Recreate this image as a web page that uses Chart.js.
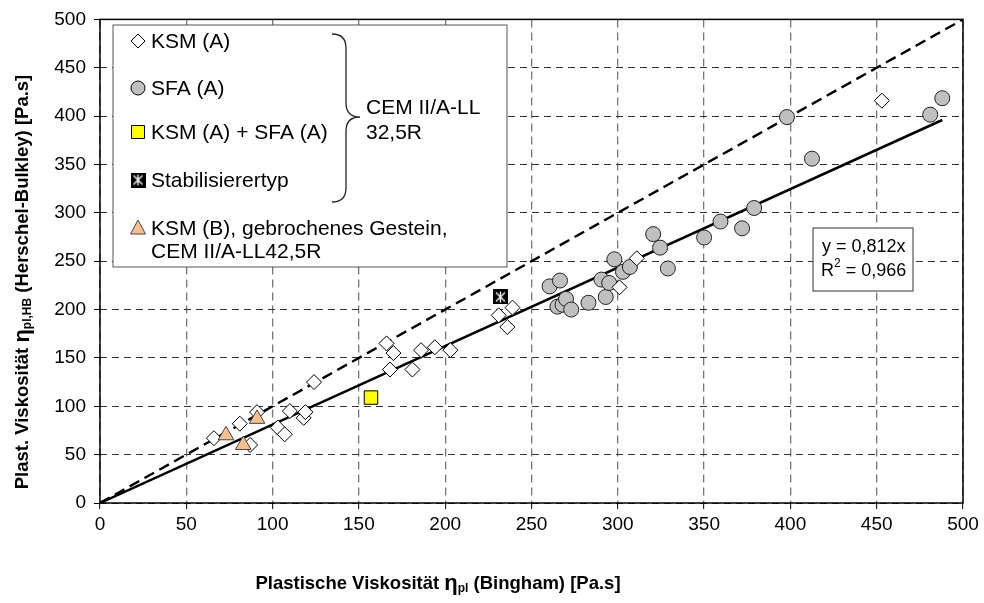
<!DOCTYPE html>
<html>
<head>
<meta charset="utf-8">
<script src="https://cdn.jsdelivr.net/npm/chart.js@4.4.1/dist/chart.umd.min.js"></script>
<style>
  html, body { margin: 0; padding: 0; background: #fff; }
  canvas { display: block; }
</style>
</head>
<body>
<canvas id="viscChart" width="984" height="603"></canvas>
<script>
// Values
const ksmA_x = [66, 81, 91, 87, 103, 107, 110, 118, 119, 124, 166, 170, 168, 186, 181, 194, 203, 231, 239, 236, 301, 311, 453];
const ksmA_y = [67, 82, 94, 60, 78, 71, 95, 88, 94, 125, 165, 155, 138, 158, 138, 161, 158, 194, 202, 182, 223, 253, 416];

const sfaA_x = [260.5, 266.5, 265, 268, 270, 273, 283, 293, 290.5, 295, 298, 303, 307, 320.5, 324.5, 329, 350, 359.5, 372, 379, 398, 412.5, 481, 488];
const sfaA_y = [224, 230, 203, 205, 211, 200, 207, 213, 231, 227.5, 252, 239, 244, 278, 264, 242.5, 274.5, 291, 284, 305, 399, 356, 401.5, 418.5];

const mix_x = [157];
const mix_y = [109];

const stab_x = [232];
const stab_y = [213];

const ksmB_x = [73, 83, 91];
const ksmB_y = [70, 60, 87];

// regression line y = 0,812x and the 1:1 line
const fit_x = [0, 488];
const fit_y = [0, 396];
const diag_x = [0, 500];
const diag_y = [0, 500];

const axisMin = 0, axisMax = 500, axisStep = 50;

const FONT = '"Liberation Sans", Arial, sans-serif';

function pts(xs, ys) {
  return xs.map(function (x, i) { return { x: x, y: ys[i] }; });
}

// black square with white star for "Stabilisierertyp"
function stabIcon(size) {
  const c = document.createElement('canvas');
  c.width = size; c.height = size;
  const g = c.getContext('2d');
  g.fillStyle = '#000';
  g.fillRect(0, 0, size, size);
  g.strokeStyle = '#fff';
  g.lineWidth = 1.3;
  g.beginPath();
  g.moveTo(3, 3); g.lineTo(size - 3, size - 3);
  g.moveTo(size - 3, 3); g.lineTo(3, size - 3);
  g.moveTo(size / 2, 2); g.lineTo(size / 2, size - 2);
  g.stroke();
  return c;
}
const stabPoint = stabIcon(15);

// draws text pieces with subscripts, centred on (0,0)
function richText(ctx, parts) {
  let total = 0;
  parts.forEach(function (p) {
    ctx.font = p.font;
    p.w = ctx.measureText(p.t).width;
    total += p.w;
  });
  let x = -total / 2;
  parts.forEach(function (p) {
    ctx.font = p.font;
    ctx.fillText(p.t, x, p.dy || 0);
    x += p.w;
  });
}

function marker(ctx, style, x, y) {
  ctx.save();
  ctx.lineWidth = 1;
  ctx.strokeStyle = '#000';
  ctx.beginPath();
  if (style === 'diamond') {
    ctx.fillStyle = '#fff';
    ctx.moveTo(x, y - 7); ctx.lineTo(x + 7, y); ctx.lineTo(x, y + 7); ctx.lineTo(x - 7, y); ctx.closePath();
  } else if (style === 'circle') {
    ctx.fillStyle = '#c0c0c0';
    ctx.arc(x, y, 7, 0, Math.PI * 2);
  } else if (style === 'square') {
    ctx.fillStyle = '#ffff00';
    ctx.rect(x - 6.5, y - 6.5, 13, 13);
  } else if (style === 'triangle') {
    ctx.fillStyle = '#f9c08e';
    ctx.strokeStyle = '#444';
    ctx.moveTo(x, y - 8); ctx.lineTo(x + 7.5, y + 6); ctx.lineTo(x - 7.5, y + 6); ctx.closePath();
  }
  ctx.fill();
  ctx.stroke();
  ctx.restore();
  if (style === 'stab') {
    ctx.drawImage(stabPoint, x - 7.5, y - 7.5);
  }
}

const overlay = {
  id: 'overlay',
  afterDraw: function (chart) {
    const ctx = chart.ctx;
    const a = chart.chartArea;
    ctx.save();

    // plot frame
    ctx.strokeStyle = '#000';
    ctx.lineWidth = 1.5;
    ctx.strokeRect(a.left, a.top, a.right - a.left, a.bottom - a.top);

    // legend box
    ctx.fillStyle = '#fff';
    ctx.fillRect(113, 25, 394, 242);
    ctx.strokeStyle = '#555';
    ctx.lineWidth = 1;
    ctx.strokeRect(113, 25, 394, 242);

    ctx.fillStyle = '#000';
    ctx.textBaseline = 'middle';
    ctx.textAlign = 'left';
    const legFont = '21px ' + FONT;
    ctx.font = legFont;
    const rows = [
      ['diamond', 'KSM (A)', 41],
      ['circle', 'SFA (A)', 88],
      ['square', 'KSM (A) + SFA (A)', 132],
      ['stab', 'Stabilisierertyp', 180],
      ['triangle', 'KSM (B), gebrochenes Gestein,', 228]
    ];
    rows.forEach(function (r) {
      marker(ctx, r[0], 138, r[2]);
      ctx.fillStyle = '#000';
      ctx.font = legFont;
      ctx.fillText(r[1], 151, r[2] + 1);
    });
    ctx.fillText('CEM II/A-LL42,5R', 151, 252);

    // curly brace
    ctx.strokeStyle = '#222';
    ctx.lineWidth = 1.3;
    ctx.beginPath();
    ctx.moveTo(332, 34);
    ctx.quadraticCurveTo(346, 34, 346, 48);
    ctx.lineTo(346, 103);
    ctx.quadraticCurveTo(346, 117, 360, 117);
    ctx.quadraticCurveTo(346, 117, 346, 131);
    ctx.lineTo(346, 188);
    ctx.quadraticCurveTo(346, 202, 332, 202);
    ctx.stroke();
    ctx.fillText('CEM II/A-LL', 366, 108);
    ctx.fillText('32,5R', 366, 133);

    // regression box
    ctx.fillStyle = '#fff';
    ctx.fillRect(813, 228, 100, 63);
    ctx.strokeStyle = '#333';
    ctx.lineWidth = 1;
    ctx.strokeRect(813, 228, 100, 63);
    ctx.fillStyle = '#000';
    ctx.font = '18px ' + FONT;
    ctx.fillText('y = 0,812x', 822, 247);
    ctx.fillText('R', 821, 271);
    let rw = ctx.measureText('R').width;
    ctx.font = '12px ' + FONT;
    ctx.fillText('2', 821 + rw, 264);
    let sw = ctx.measureText('2').width;
    ctx.font = '18px ' + FONT;
    ctx.fillText(' = 0,966', 821 + rw + sw, 271);

    // axis titles
    ctx.textAlign = 'left';
    ctx.textBaseline = 'middle';
    const big = 'bold 18.5px ' + FONT;
    const eta = 'bold 22px ' + FONT;
    const sub = 'bold 12px ' + FONT;
    ctx.save();
    ctx.translate(438, 584);
    richText(ctx, [
      { t: 'Plastische Viskosität ', font: big },
      { t: 'η', font: eta },
      { t: 'pl', font: sub, dy: 5 },
      { t: ' (Bingham) [Pa.s]', font: big }
    ]);
    ctx.restore();

    ctx.save();
    ctx.translate(23, 282);
    ctx.rotate(-Math.PI / 2);
    richText(ctx, [
      { t: 'Plast. Viskosität ', font: big },
      { t: 'η', font: eta },
      { t: 'pl,HB', font: sub, dy: 5 },
      { t: ' (Herschel-Bulkley) [Pa.s]', font: big }
    ]);
    ctx.restore();

    ctx.restore();
  }
};

new Chart(document.getElementById('viscChart'), {
  type: 'scatter',
  data: {
    datasets: [
      {
        label: 'KSM (A)',
        data: pts(ksmA_x, ksmA_y),
        pointStyle: 'rectRot',
        pointRadius: 7.5,
        backgroundColor: '#fff',
        borderColor: '#000',
        borderWidth: 1,
        order: 1
      },
      {
        label: 'SFA (A)',
        data: pts(sfaA_x, sfaA_y),
        pointStyle: 'circle',
        pointRadius: 7.5,
        backgroundColor: '#c0c0c0',
        borderColor: '#222',
        borderWidth: 1,
        order: 1
      },
      {
        label: 'KSM (A) + SFA (A)',
        data: pts(mix_x, mix_y),
        pointStyle: 'rect',
        pointRadius: 9.5,
        backgroundColor: '#ffff00',
        borderColor: '#000',
        borderWidth: 1,
        order: 1
      },
      {
        label: 'Stabilisierertyp',
        data: pts(stab_x, stab_y),
        pointStyle: stabPoint,
        order: 1
      },
      {
        label: 'KSM (B), gebrochenes Gestein, CEM II/A-LL42,5R',
        data: pts(ksmB_x, ksmB_y),
        pointStyle: 'triangle',
        pointRadius: 9,
        backgroundColor: '#f9c08e',
        borderColor: '#444',
        borderWidth: 1,
        order: 0
      },
      {
        label: 'Regression',
        type: 'line',
        data: pts(fit_x, fit_y),
        borderColor: '#000',
        borderWidth: 2.5,
        pointRadius: 0,
        fill: false,
        order: 5
      },
      {
        label: '1:1',
        type: 'line',
        data: pts(diag_x, diag_y),
        borderColor: '#000',
        borderWidth: 2.4,
        borderDash: [11, 6],
        pointRadius: 0,
        fill: false,
        order: 5
      }
    ]
  },
  options: {
    responsive: false,
    animation: false,
    layout: { padding: { top: 16, right: 21, left: 0, bottom: 0 } },
    plugins: {
      legend: { display: false },
      tooltip: { enabled: false }
    },
    scales: {
      x: {
        type: 'linear',
        min: axisMin,
        max: axisMax,
        ticks: { stepSize: axisStep, color: '#000', font: { family: FONT, size: 19 }, padding: 4, maxRotation: 0 },
        grid: { color: '#777', lineWidth: 1.3, tickColor: '#000', tickLength: 6, tickWidth: 1 },
        border: { display: false, dash: [8, 5] },
        afterFit: function (s) { s.height = 100; }
      },
      y: {
        type: 'linear',
        min: axisMin,
        max: axisMax,
        ticks: { stepSize: axisStep, color: '#000', font: { family: FONT, size: 19 }, padding: 8 },
        grid: { color: '#333', lineWidth: 1, tickColor: '#000', tickLength: 6, tickWidth: 1 },
        border: { display: false, dash: [7, 5] },
        afterFit: function (s) { s.width = 100; }
      }
    }
  },
  plugins: [overlay]
});
</script>
</body>
</html>
